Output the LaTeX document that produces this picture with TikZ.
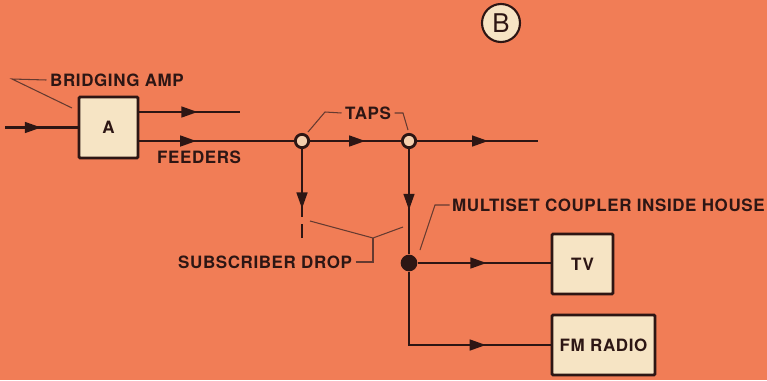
\documentclass[tikz,border=0pt]{standalone}
\usepackage{fontspec}
\setmainfont{TeX Gyre Heros}[LetterSpace=3.5]
\usetikzlibrary{positioning,arrows.meta,decorations.markings}
\definecolor{bgorange}{RGB}{241,125,86}
\definecolor{boxcream}{RGB}{246,228,196}
\definecolor{ink}{RGB}{45,22,20}
\definecolor{leadgray}{RGB}{100,58,48}

\begin{document}
\begin{tikzpicture}[x=0.03cm, y=-0.03cm,
    every node/.style={font=\fontsize{14.5}{16}\selectfont\bfseries, text=ink},
    lbl/.style={inner sep=0pt},
    unit/.style={draw=ink, line width=2.4pt, fill=boxcream, rounded corners=1pt, minimum height=1.8cm},
    tap/.style={circle, draw=ink, line width=2.4pt, fill=boxcream!80!bgorange, minimum size=0.4cm, inner sep=0pt},
    junc/.style={circle, fill=ink, minimum size=0.5cm, inner sep=0pt},
    feed/.style={draw=ink, line width=2.4pt},
    lead/.style={draw=leadgray, line width=0.9pt},
    tip/.style={postaction={decorate}, decoration={markings, mark=at position #1 with {\arrow{Triangle[length=14pt,width=9pt]}}}}]
    \fill[bgorange] (0,0) rectangle (767,380);
    % boxes and joints
    \node[unit, minimum width=1.77cm, minimum height=1.83cm] (amp) at (108.5,127.5) {A};
    \node[unit, minimum width=1.83cm] (tv) at (582.5,264) {TV};
    \node[unit, minimum width=3.09cm] (fm) at (603.5,345) {FM RADIO};
    \node[tap] (tap1) at (302,141) {};
    \node[tap] (tap2) at (409,141) {};
    \node[junc] (cpl) at (409,263) {};
    \node[circle, draw=ink, line width=1.8pt, fill=boxcream, minimum size=1.14cm, inner sep=0pt,
          font=\fontsize{22}{24}\selectfont] (mark) at (501,23) {B};
    % labels
    \node[lbl, anchor=west] (ampl) at (50,80) {BRIDGING AMP};
    \node[lbl, anchor=west] (feedl) at (157,157) {FEEDERS};
    \node[lbl, anchor=west] (tapl) at (345,113) {TAPS};
    \node[lbl, anchor=west] (subl) at (178,262) {SUBSCRIBER DROP};
    \node[lbl, anchor=west] (cpll) at (452,205) {MULTISET COUPLER INSIDE HOUSE};
    % free ends
    \coordinate (in) at (5,127.5);
    \coordinate (out1) at (240,112);
    \coordinate (fend) at (538,141);
    \coordinate (cut1) at (302,217);
    \coordinate (cut2) at (302,224);
    \coordinate (drop1) at (302,238);
    \coordinate (fmturn) at (409,345);
    % signal lines
    \draw[feed, tip=0.5] (in) -- (amp);
    \draw[feed, tip=0.58] (amp.east |- out1) -- (out1);
    \draw[feed, tip=0.37] (amp.east |- tap1) -- (tap1);
    \draw[feed, tip=0.61] (tap1) -- (tap2);
    \draw[feed, tip=0.59] (tap2) -- (fend);
    \draw[feed, tip=0.88] (tap1) -- (cut1);
    \draw[feed] (cut2) -- (drop1);
    \draw[feed, tip=0.58] (tap2) -- (cpl);
    \draw[feed, tip=0.52] (cpl) -- (tv.west |- cpl);
    \draw[feed, tip=0.7] (cpl) -- (fmturn) -- (fm.west |- fmturn);
    % leaders
    \draw[lead] ([xshift=-3pt]ampl.west) -- (12,79) -- (72,108);
    \draw[lead] ([xshift=-3pt]tapl.west) -- (325,112) -- (308,132);
    \draw[lead] ([xshift=3pt]tapl.east) -- (403,113) -- (408,130);
    \draw[lead] ([xshift=-2pt]cpll.west) -- (435,205) -- (420,250);
    \draw[lead] ([xshift=3pt]subl.east) -- (373,262) -- (373,238);
    \draw[lead] (310,221) -- (373,238) -- (403,227);
\end{tikzpicture}
\end{document}
